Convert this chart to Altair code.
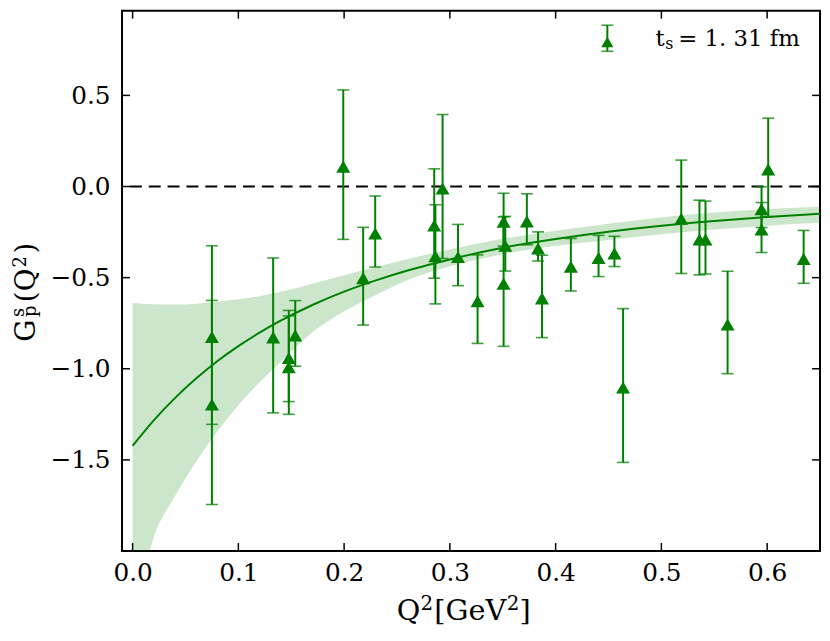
import altair as alt
import pandas as pd

# ---------------- data ----------------
q2 = [0.0750, 0.0750, 0.1329, 0.1477, 0.1477, 0.1538, 0.1992, 0.2180, 0.2294,
      0.2852, 0.2863, 0.2931, 0.3077, 0.3262, 0.3508, 0.3524, 0.3508, 0.3728,
      0.3834, 0.3871, 0.4144, 0.4406, 0.4556, 0.4638, 0.5188, 0.5360, 0.5417,
      0.5626, 0.5947, 0.5947, 0.6010, 0.6345]
gs = [-0.815, -1.185, -0.817, -0.930, -0.980, -0.806, 0.120, -0.492, -0.247,
      -0.203, -0.372, 0.000, -0.376, -0.618, -0.182, -0.314, -0.522, -0.180,
      -0.329, -0.603, -0.429, -0.381, -0.356, -1.092, -0.166, -0.280, -0.280,
      -0.746, -0.113, -0.225, 0.105, -0.386]
gerr = [0.490, 0.560, 0.425, 0.250, 0.270, 0.180, 0.410, 0.268, 0.195,
        0.300, 0.272, 0.395, 0.168, 0.243, 0.145, 0.150, 0.355, 0.140,
        0.080, 0.226, 0.144, 0.113, 0.083, 0.422, 0.311, 0.205, 0.200,
        0.281, 0.112, 0.137, 0.270, 0.145]

fit_q2 = [0.00, 0.02, 0.04, 0.06, 0.08, 0.10, 0.12, 0.14, 0.17, 0.20,
          0.23, 0.26, 0.30, 0.35, 0.40, 0.45, 0.50, 0.55, 0.60, 0.65]
fit_c = [-1.423, -1.283, -1.161, -1.054, -0.959, -0.876, -0.802, -0.736, -0.650, -0.577,
         -0.515, -0.461, -0.400, -0.336, -0.288, -0.248, -0.215, -0.189, -0.167, -0.150]
fit_hi = [-0.639, -0.646, -0.648, -0.643, -0.632, -0.619, -0.602, -0.578, -0.534, -0.487,
          -0.442, -0.398, -0.345, -0.287, -0.243, -0.204, -0.168, -0.142, -0.124, -0.111]
fit_lo = [-2.40, -1.926, -1.700, -1.510, -1.345, -1.200, -1.075, -0.963, -0.800, -0.685,
          -0.595, -0.513, -0.438, -0.371, -0.325, -0.293, -0.262, -0.236, -0.215, -0.199]

x_ticks = [0.0, 0.1, 0.2, 0.3, 0.4, 0.5, 0.6]
y_ticks = [-1.5, -1.0, -0.5, 0.0, 0.5]
zero_line = [0.0]

# ---------------- styling ----------------
W, H = 704, 545
GREEN = "#008000"
FONT = "DejaVu Serif"

pts = pd.DataFrame({
    "q2": q2, "g": gs,
    "lo": [g - e for g, e in zip(gs, gerr)],
    "hi": [g + e for g, e in zip(gs, gerr)],
})
fit = pd.DataFrame({"q2": fit_q2, "g": fit_c, "lo": fit_lo, "hi": fit_hi})

xs = alt.Scale(domain=[-0.01, 0.65], nice=False, zero=False)
ys = alt.Scale(domain=[-2.0, 0.965], nice=False, zero=False)

axis_common = dict(ticks=False, tickSize=0, domain=False, grid=False, labelFont=FONT,
                   labelFontSize=25, labelColor="black", title=None, format=".1f",
                   labelFlush=False)
AX = alt.Axis(values=x_ticks, labelPadding=10, **axis_common)
AY = alt.Axis(values=y_ticks, labelPadding=12, **axis_common)


def X(f="q2"):
    return alt.X(f + ":Q", scale=xs, axis=AX)


def Y(f="g"):
    return alt.Y(f + ":Q", scale=ys, axis=AY)


band = alt.Chart(fit).mark_area(color=GREEN, opacity=0.2, interpolate="monotone", clip=True).encode(
    x=X(), y=Y("lo"), y2="hi:Q")
curve = alt.Chart(fit).mark_line(color=GREEN, strokeWidth=2, interpolate="monotone", clip=True).encode(
    x=X(), y=Y("g"))
zero = alt.Chart(pd.DataFrame({"g": zero_line})).mark_rule(
    color="black", strokeDash=[12, 7], strokeWidth=2).encode(y=Y("g"))

bars = alt.Chart(pts).mark_rule(color=GREEN, strokeWidth=2).encode(
    x=X(), y=Y("lo"), y2="hi:Q")
cap_lo = alt.Chart(pts).mark_rule(color=GREEN, strokeWidth=1.6, opacity=0.75, xOffset=-6, x2Offset=6).encode(
    x=X(), x2="q2:Q", y=Y("lo"))
cap_hi = alt.Chart(pts).mark_rule(color=GREEN, strokeWidth=1.6, opacity=0.75, xOffset=-6, x2Offset=6).encode(
    x=X(), x2="q2:Q", y=Y("hi"))

points = alt.Chart(pts).mark_point(shape="triangle-up", filled=True, size=200, color=GREEN,
                                   opacity=1, yOffset=2).encode(x=X(), y=Y("g"))

# inward ticks on all four sides
xt = pd.DataFrame({"q2": x_ticks})
yt = pd.DataFrame({"g": y_ticks})
tick_style = dict(color="black", strokeWidth=1.5)
t_bottom = alt.Chart(xt).mark_rule(**tick_style).encode(x=X(), y=alt.value(H), y2=alt.value(H - 8))
t_top = alt.Chart(xt).mark_rule(**tick_style).encode(x=X(), y=alt.value(0), y2=alt.value(8))
t_left = alt.Chart(yt).mark_rule(**tick_style).encode(y=Y("g"), x=alt.value(0), x2=alt.value(8))
t_right = alt.Chart(yt).mark_rule(**tick_style).encode(y=Y("g"), x=alt.value(W), x2=alt.value(W - 8))


def txt(s, x, y, size, angle=0, align="left", baseline="alphabetic"):
    return alt.Chart(pd.DataFrame({"t": [s]})).mark_text(
        font=FONT, fontSize=size, angle=angle, align=align, baseline=baseline, color="black"
    ).encode(text="t:N", x=alt.value(x), y=alt.value(y))


# y-axis title  G_p^s(Q^2)
ytitle = [
    txt("G", -88, 334, 28, angle=270),
    txt("s", -99, 309, 18, angle=270),
    txt("p", -86.5, 309, 18, angle=270),
    txt("(Q", -88, 294, 28, angle=270),
    txt("2", -97, 259, 18, angle=270),
    txt(")", -88, 245, 28, angle=270),
]
# x-axis title  Q^2[GeV^2]
xtitle = [
    txt("Q", 277, 615, 29),
    txt("2", 301, 604, 20),
    txt("[GeV", 315, 615, 29),
    txt("2", 388, 604, 20),
    txt("]", 401, 615, 29),
]

# legend
one = pd.DataFrame({"k": [0]})
leg_bar = alt.Chart(one).mark_rule(color=GREEN, strokeWidth=2).encode(
    x=alt.value(489.5), y=alt.value(14.7), y2=alt.value(41))
leg_cap1 = alt.Chart(one).mark_rule(color=GREEN, strokeWidth=1.6, opacity=0.75).encode(
    x=alt.value(483.5), x2=alt.value(495.5), y=alt.value(14.7))
leg_cap2 = alt.Chart(one).mark_rule(color=GREEN, strokeWidth=1.6, opacity=0.75).encode(
    x=alt.value(483.5), x2=alt.value(495.5), y=alt.value(41))
leg_pt = alt.Chart(one).mark_point(shape="triangle-up", filled=True, size=150, color=GREEN,
                                   opacity=1, yOffset=2).encode(x=alt.value(489.5), y=alt.value(29.5))
legend = [leg_bar, leg_cap1, leg_cap2, leg_pt,
          txt("t", 538, 35.3, 23), txt("s", 548, 38.5, 16), txt("= 1. 31 fm", 561, 35.3, 23)]

chart = alt.layer(
    band, curve, zero, bars, cap_lo, cap_hi, points,
    t_bottom, t_top, t_left, t_right,
    *ytitle, *xtitle, *legend,
).properties(
    width=W, height=H,
    autosize=alt.AutoSizeParams(type="none"),
    padding={"left": 115, "top": 0, "right": 2, "bottom": 77},
).configure_view(stroke="black", strokeWidth=2)

chart.save("out.html", embed_options={"renderer": "svg", "actions": False})
